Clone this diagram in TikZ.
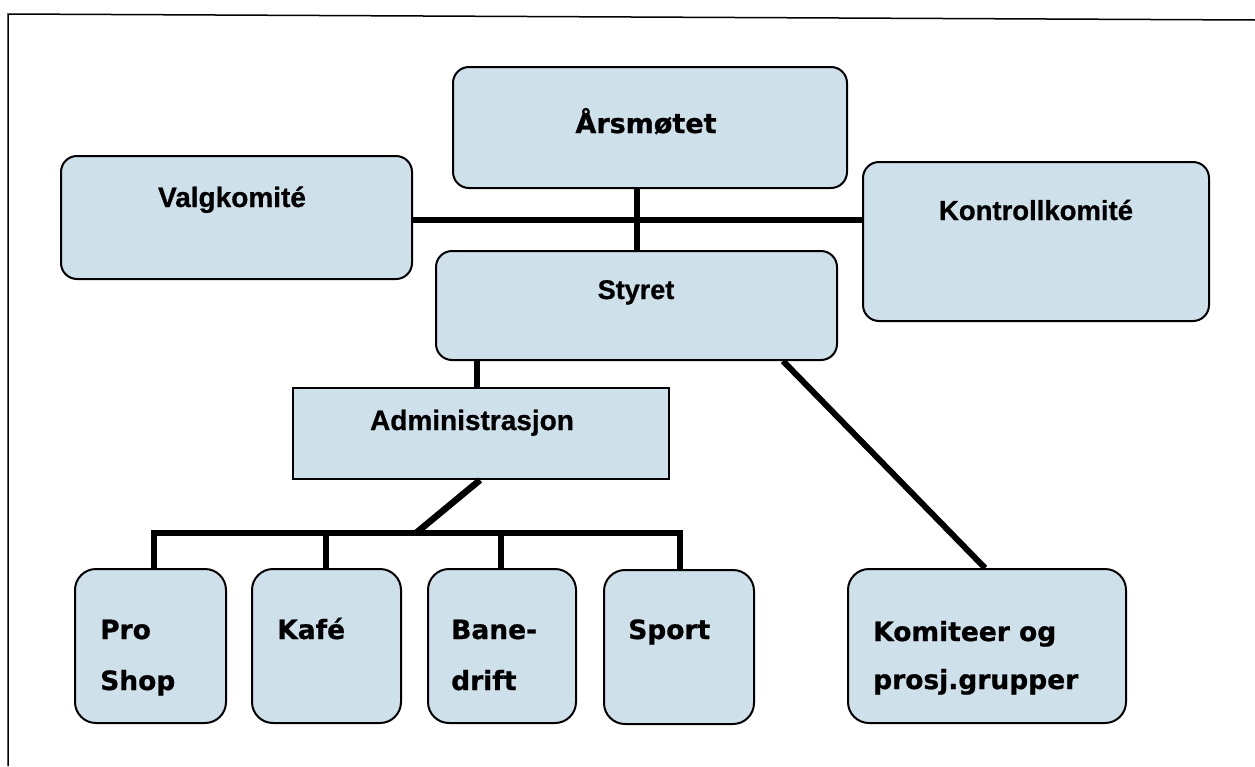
\documentclass[tikz,border=0pt]{standalone}
\usepackage{fontspec}
\setmainfont{Liberation Sans}[BoldFeatures={FakeBold=0.8}]
\newfontfamily\verd{DejaVu Sans}[BoldFeatures={FakeBold=0.8}]
\definecolor{boxblue}{RGB}{206,224,233}
\begin{document}
\begin{tikzpicture}[x=1pt,y=-1pt,
  rbox/.style={draw=black,line width=2pt,fill=boxblue,rounded corners=16pt,inner sep=0pt},
  sbox/.style={draw=black,line width=2pt,fill=boxblue,inner sep=0pt},
  bbox/.style={draw=black,line width=2pt,fill=boxblue,rounded corners=21pt,inner sep=0pt,minimum width=150pt,minimum height=154pt},
  conn/.style={line width=6.5pt,line cap=butt},
  toplbl/.style={font=\bfseries\fontsize{28}{30}\selectfont,inner sep=0pt,anchor=base},
  botlbl/.style={font=\verd\bfseries\fontsize{26.5}{30}\selectfont,inner sep=0pt,anchor=base west}]
\useasboundingbox (0,0) rectangle (1255,766);
\fill[white] (0,0) rectangle (1255,766);
% frame
\draw[line width=1.5pt] (8,766) -- (8,14) -- (1255,20);
% boxes
\node[rbox,minimum width=394pt,minimum height=121pt] (ars) at (650,127.5) {};
\node[rbox,minimum width=351pt,minimum height=123pt] (valg) at (236.5,217.5) {};
\node[rbox,minimum width=346pt,minimum height=159pt] (kontr) at (1036,241.5) {};
\node[rbox,minimum width=401pt,minimum height=109pt] (sty) at (636.5,305.5) {};
\node[sbox,minimum width=376pt,minimum height=91pt] (adm) at (481,433.5) {};
\node[bbox,minimum width=151pt] (pro) at (150.5,646) {};
\node[bbox,minimum width=149pt] (kafe) at (326.5,646) {};
\node[bbox,minimum width=148pt] (bane) at (502,646) {};
\node[bbox] (sport) at (679,647) {};
\node[bbox,minimum width=278pt] (kom) at (987,646) {};
% labels
\node[toplbl,font=\verd\bfseries\fontsize{27}{30}\selectfont] (tars) at (646,133) {Årsmøtet};
\node[toplbl] (tvalg) at (232,207) {Valgkomité};
\node[toplbl,font=\bfseries\fontsize{27.5}{30}\selectfont] (tkontr) at (1036,220) {Kontrollkomité};
\node[toplbl,font=\bfseries\fontsize{27}{30}\selectfont] (tsty) at (636,299) {Styret};
\node[toplbl] (tadm) at (472,430) {Administrasjon};
\node[botlbl] (tpro1) at (100,639) {Pro};
\node[botlbl] (tpro2) at (100,690) {Shop};
\node[botlbl] (tkafe) at (277,639) {Kafé};
\node[botlbl] (tbane1) at (451,639) {Bane-};
\node[botlbl] (tbane2) at (451,690) {drift};
\node[botlbl] (tsport) at (628,639) {Sport};
\node[botlbl] (tkom1) at (873,641) {Komiteer og};
\node[botlbl] (tkom2) at (873,689) {prosj.grupper};
% connectors
\coordinate (xv) at (637,0);
\coordinate (yh) at (0,220);
\coordinate (xa) at (477,0);
\coordinate (xs) at (783,0);
\coordinate (xk) at (985,0);
\coordinate (xb) at (480,0);
\coordinate (j) at (416,533);
\coordinate (xp) at (154,0);
\coordinate (xc) at (326,0);
\coordinate (xn) at (501,0);
\coordinate (xt) at (680,0);
\draw[conn] (ars.south -| xv) -- (sty.north -| xv);
\draw[conn] (valg.east |- yh) -- (kontr.west |- yh);
\draw[conn] (sty.south -| xa) -- (adm.north -| xa);
\draw[conn,line width=6pt] (sty.south -| xs) -- (kom.north -| xk);
\draw[conn] (adm.south -| xb) -- (j);
\draw[conn,line join=miter] (pro.north -| xp) -- (j -| xp) -- (j -| xt) -- (sport.north -| xt);
\draw[conn] (kafe.north -| xc) -- (j -| xc);
\draw[conn] (bane.north -| xn) -- (j -| xn);
\end{tikzpicture}
\end{document}
